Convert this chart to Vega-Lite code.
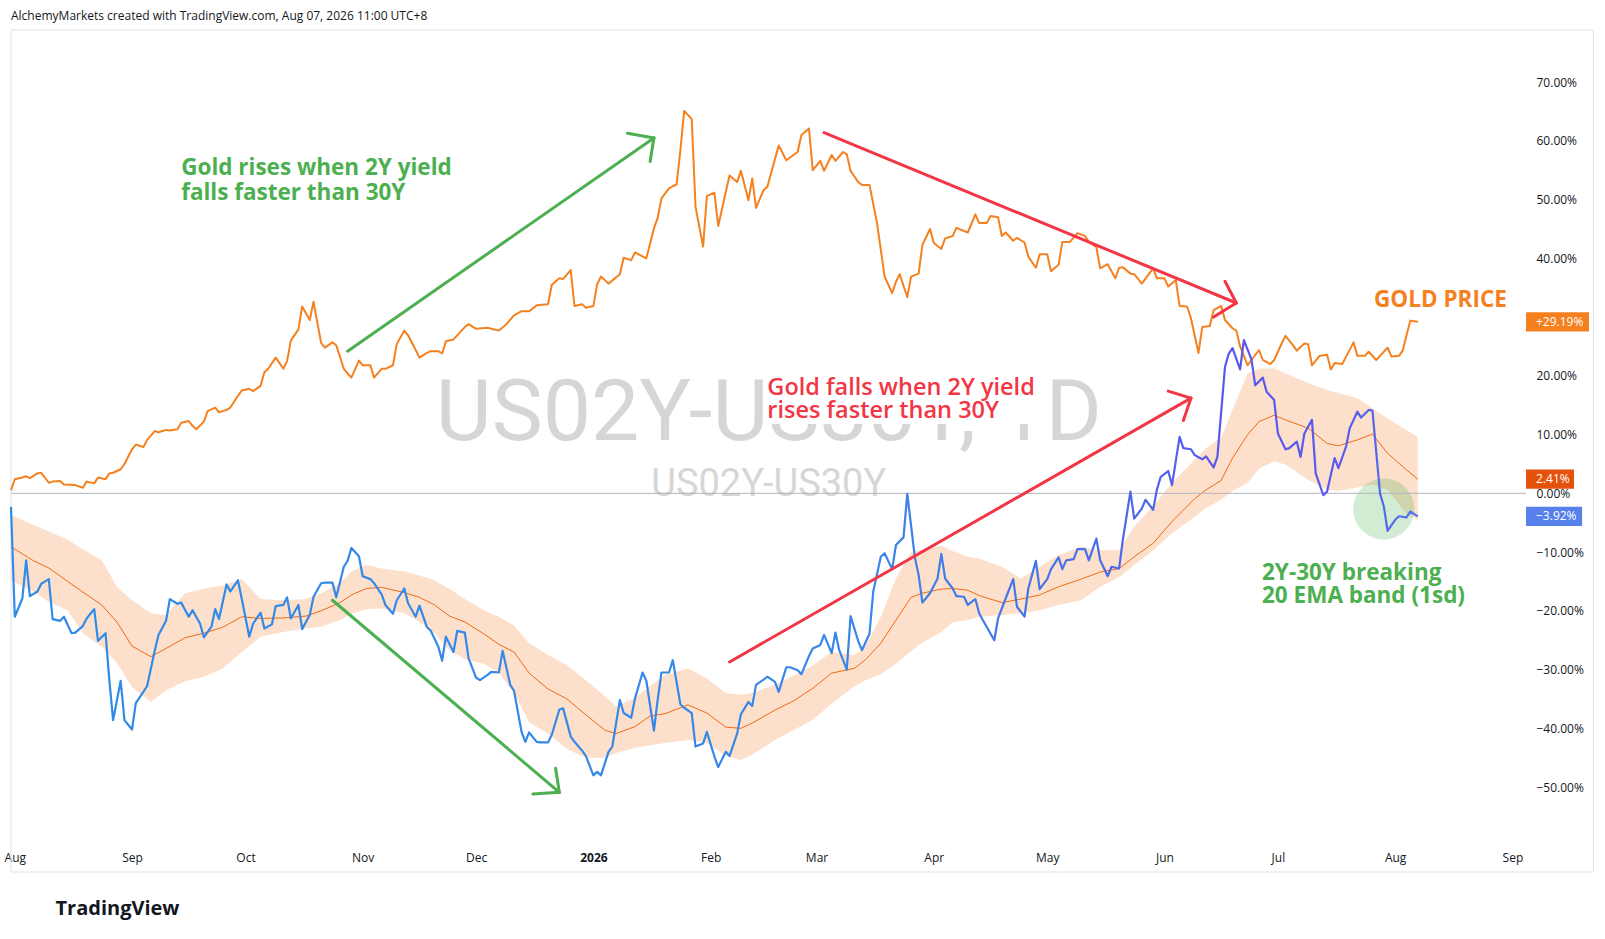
{
  "$schema": "https://vega.github.io/schema/vega-lite/v6.json",
  "width": 1515,
  "height": 811,
  "autosize": {"type": "none"},
  "padding": {"left": 11, "top": 31, "right": 79, "bottom": 97},
  "background": "white",
  "title": {
    "text": "AlchemyMarkets created with TradingView.com, Aug 07, 2026 11:00 UTC+8",
    "anchor": "start",
    "frame": "group",
    "font": "Open Sans",
    "fontSize": 12,
    "fontWeight": "normal",
    "color": "#131722",
    "baseline": "alphabetic",
    "offset": -2
  },
  "config": {"view": {"stroke": null}, "font": "Open Sans"},
  "data": {"values": [{}]},
  "datasets": {
    "gold": [
      {"d": "2025-07-31", "v": 0.5}, {"d": "2025-08-01", "v": 2.4}, {"d": "2025-08-03", "v": 2.7}, {"d": "2025-08-04", "v": 2.9},
      {"d": "2025-08-05", "v": 2.6}, {"d": "2025-08-07", "v": 3.4}, {"d": "2025-08-08", "v": 3.5}, {"d": "2025-08-10", "v": 1.8},
      {"d": "2025-08-11", "v": 2.0}, {"d": "2025-08-13", "v": 2.1}, {"d": "2025-08-14", "v": 1.5}, {"d": "2025-08-17", "v": 1.4},
      {"d": "2025-08-19", "v": 0.95}, {"d": "2025-08-20", "v": 2.0}, {"d": "2025-08-22", "v": 1.7}, {"d": "2025-08-23", "v": 2.7},
      {"d": "2025-08-25", "v": 2.4}, {"d": "2025-08-26", "v": 3.4}, {"d": "2025-08-27", "v": 3.5}, {"d": "2025-08-29", "v": 4.1},
      {"d": "2025-08-30", "v": 5.0}, {"d": "2025-09-01", "v": 7.5}, {"d": "2025-09-02", "v": 8.3}, {"d": "2025-09-04", "v": 7.9},
      {"d": "2025-09-05", "v": 9.1}, {"d": "2025-09-07", "v": 10.6}, {"d": "2025-09-08", "v": 10.4}, {"d": "2025-09-10", "v": 10.8},
      {"d": "2025-09-11", "v": 10.7}, {"d": "2025-09-13", "v": 10.9}, {"d": "2025-09-14", "v": 12.0}, {"d": "2025-09-16", "v": 12.3},
      {"d": "2025-09-17", "v": 11.5}, {"d": "2025-09-18", "v": 10.9}, {"d": "2025-09-20", "v": 12.2}, {"d": "2025-09-21", "v": 14.0},
      {"d": "2025-09-23", "v": 14.6}, {"d": "2025-09-24", "v": 13.8}, {"d": "2025-09-26", "v": 14.2}, {"d": "2025-09-27", "v": 14.6},
      {"d": "2025-09-29", "v": 16.6}, {"d": "2025-09-30", "v": 17.5}, {"d": "2025-10-02", "v": 17.8}, {"d": "2025-10-03", "v": 17.4},
      {"d": "2025-10-05", "v": 18.3}, {"d": "2025-10-06", "v": 20.6}, {"d": "2025-10-07", "v": 21.2}, {"d": "2025-10-09", "v": 23.1},
      {"d": "2025-10-11", "v": 21.2}, {"d": "2025-10-12", "v": 22.5}, {"d": "2025-10-13", "v": 26.0}, {"d": "2025-10-15", "v": 27.9},
      {"d": "2025-10-16", "v": 31.8}, {"d": "2025-10-18", "v": 29.5}, {"d": "2025-10-19", "v": 32.6}, {"d": "2025-10-21", "v": 25.6},
      {"d": "2025-10-22", "v": 24.8}, {"d": "2025-10-24", "v": 25.7}, {"d": "2025-10-25", "v": 25.2}, {"d": "2025-10-27", "v": 21.2},
      {"d": "2025-10-28", "v": 20.4}, {"d": "2025-10-29", "v": 19.7}, {"d": "2025-10-31", "v": 22.6}, {"d": "2025-11-01", "v": 21.8},
      {"d": "2025-11-03", "v": 21.8}, {"d": "2025-11-04", "v": 19.7}, {"d": "2025-11-06", "v": 21.2}, {"d": "2025-11-07", "v": 21.2},
      {"d": "2025-11-09", "v": 21.8}, {"d": "2025-11-10", "v": 25.4}, {"d": "2025-11-12", "v": 27.7}, {"d": "2025-11-13", "v": 26.9},
      {"d": "2025-11-15", "v": 24.4}, {"d": "2025-11-16", "v": 23.1}, {"d": "2025-11-18", "v": 23.9}, {"d": "2025-11-19", "v": 24.2},
      {"d": "2025-11-21", "v": 24.2}, {"d": "2025-11-22", "v": 23.8}, {"d": "2025-11-23", "v": 25.9}, {"d": "2025-11-25", "v": 26.2},
      {"d": "2025-11-28", "v": 28.3}, {"d": "2025-11-29", "v": 28.8}, {"d": "2025-12-01", "v": 28.0}, {"d": "2025-12-04", "v": 28.2},
      {"d": "2025-12-07", "v": 27.7}, {"d": "2025-12-09", "v": 28.8}, {"d": "2025-12-11", "v": 30.3}, {"d": "2025-12-13", "v": 31.0},
      {"d": "2025-12-15", "v": 31.0}, {"d": "2025-12-17", "v": 32.0}, {"d": "2025-12-20", "v": 32.2}, {"d": "2025-12-21", "v": 35.5},
      {"d": "2025-12-23", "v": 36.6}, {"d": "2025-12-24", "v": 36.5}, {"d": "2025-12-26", "v": 38.0}, {"d": "2025-12-27", "v": 31.9},
      {"d": "2025-12-29", "v": 32.2}, {"d": "2025-12-30", "v": 31.6}, {"d": "2026-01-01", "v": 31.9}, {"d": "2026-01-02", "v": 35.6},
      {"d": "2026-01-03", "v": 36.9}, {"d": "2026-01-05", "v": 35.7}, {"d": "2026-01-08", "v": 37.3}, {"d": "2026-01-09", "v": 40.1},
      {"d": "2026-01-11", "v": 39.7}, {"d": "2026-01-12", "v": 41.0}, {"d": "2026-01-15", "v": 40.0}, {"d": "2026-01-17", "v": 45.1},
      {"d": "2026-01-18", "v": 46.9}, {"d": "2026-01-19", "v": 50.2}, {"d": "2026-01-21", "v": 51.9}, {"d": "2026-01-23", "v": 52.6},
      {"d": "2026-01-24", "v": 58.4}, {"d": "2026-01-25", "v": 65.1}, {"d": "2026-01-27", "v": 63.7}, {"d": "2026-01-28", "v": 48.8},
      {"d": "2026-01-30", "v": 42.0}, {"d": "2026-01-31", "v": 50.6}, {"d": "2026-02-02", "v": 51.2}, {"d": "2026-02-03", "v": 45.5},
      {"d": "2026-02-05", "v": 51.3}, {"d": "2026-02-06", "v": 54.1}, {"d": "2026-02-08", "v": 53.0}, {"d": "2026-02-09", "v": 54.9},
      {"d": "2026-02-11", "v": 49.9}, {"d": "2026-02-12", "v": 53.6}, {"d": "2026-02-13", "v": 48.6}, {"d": "2026-02-15", "v": 51.6},
      {"d": "2026-02-16", "v": 52.2}, {"d": "2026-02-19", "v": 59.2}, {"d": "2026-02-21", "v": 56.7}, {"d": "2026-02-24", "v": 58.1},
      {"d": "2026-02-25", "v": 61.0}, {"d": "2026-02-27", "v": 62.1}, {"d": "2026-02-28", "v": 55.0}, {"d": "2026-03-02", "v": 56.6},
      {"d": "2026-03-03", "v": 54.9}, {"d": "2026-03-05", "v": 57.6}, {"d": "2026-03-06", "v": 56.6}, {"d": "2026-03-08", "v": 58.1},
      {"d": "2026-03-09", "v": 57.7}, {"d": "2026-03-10", "v": 54.9}, {"d": "2026-03-12", "v": 53.0}, {"d": "2026-03-13", "v": 52.5},
      {"d": "2026-03-15", "v": 52.5}, {"d": "2026-03-17", "v": 46.0}, {"d": "2026-03-19", "v": 36.9}, {"d": "2026-03-21", "v": 34.1},
      {"d": "2026-03-22", "v": 36.0}, {"d": "2026-03-23", "v": 37.3}, {"d": "2026-03-25", "v": 33.4}, {"d": "2026-03-26", "v": 36.9},
      {"d": "2026-03-28", "v": 37.4}, {"d": "2026-03-29", "v": 42.3}, {"d": "2026-03-31", "v": 45.0}, {"d": "2026-04-01", "v": 42.6},
      {"d": "2026-04-03", "v": 41.6}, {"d": "2026-04-04", "v": 43.4}, {"d": "2026-04-06", "v": 43.8}, {"d": "2026-04-07", "v": 45.2},
      {"d": "2026-04-10", "v": 44.4}, {"d": "2026-04-12", "v": 47.5}, {"d": "2026-04-13", "v": 46.0}, {"d": "2026-04-15", "v": 46.0},
      {"d": "2026-04-16", "v": 47.2}, {"d": "2026-04-18", "v": 47.0}, {"d": "2026-04-19", "v": 43.8}, {"d": "2026-04-20", "v": 44.4},
      {"d": "2026-04-22", "v": 43.0}, {"d": "2026-04-23", "v": 43.5}, {"d": "2026-04-25", "v": 42.7}, {"d": "2026-04-26", "v": 40.3},
      {"d": "2026-04-28", "v": 38.4}, {"d": "2026-04-29", "v": 40.7}, {"d": "2026-05-01", "v": 40.7}, {"d": "2026-05-02", "v": 37.8},
      {"d": "2026-05-04", "v": 38.9}, {"d": "2026-05-05", "v": 42.8}, {"d": "2026-05-07", "v": 42.8}, {"d": "2026-05-09", "v": 44.3},
      {"d": "2026-05-11", "v": 43.8}, {"d": "2026-05-12", "v": 42.8}, {"d": "2026-05-14", "v": 41.9}, {"d": "2026-05-15", "v": 38.3},
      {"d": "2026-05-17", "v": 39.0}, {"d": "2026-05-19", "v": 36.6}, {"d": "2026-05-20", "v": 38.4}, {"d": "2026-05-21", "v": 38.5},
      {"d": "2026-05-23", "v": 37.4}, {"d": "2026-05-24", "v": 37.3}, {"d": "2026-05-26", "v": 35.7}, {"d": "2026-05-29", "v": 38.3},
      {"d": "2026-05-30", "v": 36.6}, {"d": "2026-06-01", "v": 36.6}, {"d": "2026-06-02", "v": 35.2}, {"d": "2026-06-04", "v": 36.3},
      {"d": "2026-06-05", "v": 31.9}, {"d": "2026-06-07", "v": 31.8}, {"d": "2026-06-08", "v": 29.8}, {"d": "2026-06-10", "v": 23.9},
      {"d": "2026-06-11", "v": 28.3}, {"d": "2026-06-13", "v": 28.5}, {"d": "2026-06-14", "v": 31.2}, {"d": "2026-06-16", "v": 31.9},
      {"d": "2026-06-17", "v": 29.5}, {"d": "2026-06-19", "v": 28.1}, {"d": "2026-06-20", "v": 27.7}, {"d": "2026-06-21", "v": 25.0},
      {"d": "2026-06-23", "v": 21.8}, {"d": "2026-06-24", "v": 22.7}, {"d": "2026-06-26", "v": 24.4}, {"d": "2026-06-27", "v": 22.7},
      {"d": "2026-06-29", "v": 22.0}, {"d": "2026-06-30", "v": 22.7}, {"d": "2026-07-02", "v": 25.5}, {"d": "2026-07-03", "v": 26.8},
      {"d": "2026-07-05", "v": 25.2}, {"d": "2026-07-06", "v": 24.3}, {"d": "2026-07-08", "v": 25.5}, {"d": "2026-07-09", "v": 25.4},
      {"d": "2026-07-10", "v": 21.8}, {"d": "2026-07-12", "v": 23.4}, {"d": "2026-07-14", "v": 23.6}, {"d": "2026-07-15", "v": 21.1},
      {"d": "2026-07-16", "v": 22.2}, {"d": "2026-07-18", "v": 22.0}, {"d": "2026-07-21", "v": 25.7}, {"d": "2026-07-22", "v": 23.4},
      {"d": "2026-07-24", "v": 23.4}, {"d": "2026-07-25", "v": 24.1}, {"d": "2026-07-27", "v": 22.7}, {"d": "2026-07-30", "v": 24.8},
      {"d": "2026-07-31", "v": 23.3}, {"d": "2026-08-02", "v": 23.4}, {"d": "2026-08-03", "v": 24.3}, {"d": "2026-08-05", "v": 29.4},
      {"d": "2026-08-06", "v": 29.3}, {"d": "2026-08-07", "v": 29.19}
    ],
    "spread": [
      {"d": "2025-07-31", "v": -2.3}, {"d": "2025-08-01", "v": -21.0}, {"d": "2025-08-03", "v": -17.9}, {"d": "2025-08-04", "v": -11.4},
      {"d": "2025-08-05", "v": -17.5}, {"d": "2025-08-07", "v": -16.7}, {"d": "2025-08-08", "v": -15.4}, {"d": "2025-08-10", "v": -14.6},
      {"d": "2025-08-11", "v": -21.4}, {"d": "2025-08-13", "v": -21.7}, {"d": "2025-08-14", "v": -21.0}, {"d": "2025-08-16", "v": -23.8},
      {"d": "2025-08-17", "v": -23.7}, {"d": "2025-08-19", "v": -22.6}, {"d": "2025-08-20", "v": -21.3}, {"d": "2025-08-22", "v": -19.7},
      {"d": "2025-08-23", "v": -25.1}, {"d": "2025-08-25", "v": -23.8}, {"d": "2025-08-26", "v": -31.8}, {"d": "2025-08-27", "v": -38.6},
      {"d": "2025-08-29", "v": -31.9}, {"d": "2025-08-30", "v": -38.6}, {"d": "2025-09-01", "v": -40.2}, {"d": "2025-09-02", "v": -35.7},
      {"d": "2025-09-04", "v": -33.8}, {"d": "2025-09-05", "v": -32.8}, {"d": "2025-09-07", "v": -26.8}, {"d": "2025-09-08", "v": -24.1},
      {"d": "2025-09-10", "v": -21.7}, {"d": "2025-09-11", "v": -18.0}, {"d": "2025-09-13", "v": -18.8}, {"d": "2025-09-14", "v": -18.6},
      {"d": "2025-09-16", "v": -21.0}, {"d": "2025-09-17", "v": -19.9}, {"d": "2025-09-19", "v": -22.2}, {"d": "2025-09-20", "v": -24.5},
      {"d": "2025-09-22", "v": -22.7}, {"d": "2025-09-23", "v": -19.7}, {"d": "2025-09-24", "v": -21.4}, {"d": "2025-09-26", "v": -15.5},
      {"d": "2025-09-27", "v": -16.7}, {"d": "2025-09-29", "v": -14.8}, {"d": "2025-09-30", "v": -17.9}, {"d": "2025-10-02", "v": -24.4},
      {"d": "2025-10-03", "v": -22.2}, {"d": "2025-10-05", "v": -20.3}, {"d": "2025-10-06", "v": -23.0}, {"d": "2025-10-08", "v": -22.3},
      {"d": "2025-10-09", "v": -19.2}, {"d": "2025-10-11", "v": -19.0}, {"d": "2025-10-12", "v": -17.7}, {"d": "2025-10-13", "v": -21.3},
      {"d": "2025-10-15", "v": -19.0}, {"d": "2025-10-16", "v": -23.1}, {"d": "2025-10-18", "v": -20.7}, {"d": "2025-10-19", "v": -17.6},
      {"d": "2025-10-21", "v": -15.3}, {"d": "2025-10-22", "v": -15.2}, {"d": "2025-10-24", "v": -15.2}, {"d": "2025-10-25", "v": -17.7},
      {"d": "2025-10-27", "v": -12.5}, {"d": "2025-10-28", "v": -11.5}, {"d": "2025-10-29", "v": -9.3}, {"d": "2025-10-31", "v": -10.7},
      {"d": "2025-11-01", "v": -14.1}, {"d": "2025-11-03", "v": -14.6}, {"d": "2025-11-04", "v": -15.3}, {"d": "2025-11-06", "v": -17.2},
      {"d": "2025-11-07", "v": -19.0}, {"d": "2025-11-09", "v": -20.5}, {"d": "2025-11-10", "v": -18.2}, {"d": "2025-11-12", "v": -16.2},
      {"d": "2025-11-13", "v": -18.7}, {"d": "2025-11-15", "v": -21.0}, {"d": "2025-11-16", "v": -19.1}, {"d": "2025-11-18", "v": -22.8},
      {"d": "2025-11-19", "v": -23.4}, {"d": "2025-11-21", "v": -26.1}, {"d": "2025-11-22", "v": -28.5}, {"d": "2025-11-23", "v": -24.4},
      {"d": "2025-11-25", "v": -27.0}, {"d": "2025-11-26", "v": -23.4}, {"d": "2025-11-28", "v": -23.7}, {"d": "2025-11-29", "v": -28.1},
      {"d": "2025-12-01", "v": -31.4}, {"d": "2025-12-02", "v": -31.8}, {"d": "2025-12-04", "v": -30.9}, {"d": "2025-12-05", "v": -30.4},
      {"d": "2025-12-07", "v": -30.5}, {"d": "2025-12-08", "v": -26.8}, {"d": "2025-12-10", "v": -32.6}, {"d": "2025-12-11", "v": -33.6},
      {"d": "2025-12-13", "v": -40.6}, {"d": "2025-12-14", "v": -42.3}, {"d": "2025-12-15", "v": -40.7}, {"d": "2025-12-17", "v": -42.3},
      {"d": "2025-12-18", "v": -42.4}, {"d": "2025-12-20", "v": -42.4}, {"d": "2025-12-21", "v": -41.1}, {"d": "2025-12-23", "v": -36.8},
      {"d": "2025-12-24", "v": -36.6}, {"d": "2025-12-26", "v": -41.4}, {"d": "2025-12-27", "v": -42.3}, {"d": "2025-12-29", "v": -43.8},
      {"d": "2025-12-30", "v": -44.7}, {"d": "2026-01-01", "v": -48.0}, {"d": "2026-01-02", "v": -47.4}, {"d": "2026-01-03", "v": -48.0},
      {"d": "2026-01-05", "v": -44.0}, {"d": "2026-01-06", "v": -43.1}, {"d": "2026-01-08", "v": -35.2}, {"d": "2026-01-09", "v": -37.4},
      {"d": "2026-01-11", "v": -38.2}, {"d": "2026-01-12", "v": -34.9}, {"d": "2026-01-14", "v": -30.5}, {"d": "2026-01-15", "v": -31.9},
      {"d": "2026-01-17", "v": -40.4}, {"d": "2026-01-18", "v": -35.1}, {"d": "2026-01-19", "v": -30.5}, {"d": "2026-01-21", "v": -30.5},
      {"d": "2026-01-22", "v": -28.4}, {"d": "2026-01-24", "v": -35.9}, {"d": "2026-01-25", "v": -36.5}, {"d": "2026-01-27", "v": -37.4},
      {"d": "2026-01-28", "v": -43.1}, {"d": "2026-01-30", "v": -42.6}, {"d": "2026-01-31", "v": -40.6}, {"d": "2026-02-02", "v": -44.8},
      {"d": "2026-02-03", "v": -46.6}, {"d": "2026-02-05", "v": -44.0}, {"d": "2026-02-06", "v": -44.7}, {"d": "2026-02-08", "v": -40.9},
      {"d": "2026-02-09", "v": -37.6}, {"d": "2026-02-11", "v": -35.5}, {"d": "2026-02-12", "v": -36.2}, {"d": "2026-02-13", "v": -32.6},
      {"d": "2026-02-15", "v": -31.7}, {"d": "2026-02-16", "v": -31.2}, {"d": "2026-02-18", "v": -32.1}, {"d": "2026-02-19", "v": -33.8},
      {"d": "2026-02-21", "v": -29.6}, {"d": "2026-02-22", "v": -29.6}, {"d": "2026-02-24", "v": -30.1}, {"d": "2026-02-25", "v": -30.8},
      {"d": "2026-02-27", "v": -27.7}, {"d": "2026-02-28", "v": -26.4}, {"d": "2026-03-02", "v": -25.8}, {"d": "2026-03-03", "v": -24.1},
      {"d": "2026-03-05", "v": -27.2}, {"d": "2026-03-06", "v": -23.7}, {"d": "2026-03-07", "v": -26.7}, {"d": "2026-03-09", "v": -30.0},
      {"d": "2026-03-10", "v": -20.9}, {"d": "2026-03-12", "v": -25.1}, {"d": "2026-03-13", "v": -26.7}, {"d": "2026-03-15", "v": -23.9},
      {"d": "2026-03-16", "v": -16.7}, {"d": "2026-03-18", "v": -10.8}, {"d": "2026-03-19", "v": -10.2}, {"d": "2026-03-21", "v": -12.9},
      {"d": "2026-03-22", "v": -8.8}, {"d": "2026-03-24", "v": -7.5}, {"d": "2026-03-25", "v": -0.1}, {"d": "2026-03-27", "v": -10.9},
      {"d": "2026-03-28", "v": -13.9}, {"d": "2026-03-29", "v": -18.6}, {"d": "2026-03-31", "v": -17.0}, {"d": "2026-04-02", "v": -14.5},
      {"d": "2026-04-03", "v": -10.3}, {"d": "2026-04-04", "v": -14.5}, {"d": "2026-04-06", "v": -16.2}, {"d": "2026-04-07", "v": -17.5},
      {"d": "2026-04-09", "v": -17.6}, {"d": "2026-04-10", "v": -19.0}, {"d": "2026-04-12", "v": -18.0}, {"d": "2026-04-13", "v": -20.4},
      {"d": "2026-04-14", "v": -21.6}, {"d": "2026-04-17", "v": -25.0}, {"d": "2026-04-18", "v": -21.3}, {"d": "2026-04-20", "v": -17.9},
      {"d": "2026-04-22", "v": -14.6}, {"d": "2026-04-23", "v": -19.3}, {"d": "2026-04-25", "v": -21.0}, {"d": "2026-04-26", "v": -16.2},
      {"d": "2026-04-28", "v": -11.5}, {"d": "2026-04-29", "v": -16.3}, {"d": "2026-05-01", "v": -14.6}, {"d": "2026-05-02", "v": -12.9},
      {"d": "2026-05-04", "v": -10.9}, {"d": "2026-05-05", "v": -12.9}, {"d": "2026-05-06", "v": -11.4}, {"d": "2026-05-08", "v": -11.2},
      {"d": "2026-05-09", "v": -9.5}, {"d": "2026-05-11", "v": -9.5}, {"d": "2026-05-12", "v": -11.4}, {"d": "2026-05-14", "v": -7.7},
      {"d": "2026-05-15", "v": -11.4}, {"d": "2026-05-17", "v": -14.1}, {"d": "2026-05-18", "v": -12.5}, {"d": "2026-05-20", "v": -12.8},
      {"d": "2026-05-21", "v": -7.9}, {"d": "2026-05-23", "v": 0.3}, {"d": "2026-05-24", "v": -4.3}, {"d": "2026-05-26", "v": -2.6},
      {"d": "2026-05-27", "v": -1.1}, {"d": "2026-05-29", "v": -2.8}, {"d": "2026-05-30", "v": 0.6}, {"d": "2026-05-31", "v": 2.8},
      {"d": "2026-06-02", "v": 3.8}, {"d": "2026-06-03", "v": 1.4}, {"d": "2026-06-05", "v": 9.6}, {"d": "2026-06-06", "v": 7.7},
      {"d": "2026-06-08", "v": 7.5}, {"d": "2026-06-09", "v": 6.5}, {"d": "2026-06-11", "v": 5.8}, {"d": "2026-06-12", "v": 6.3},
      {"d": "2026-06-14", "v": 4.4}, {"d": "2026-06-15", "v": 6.2}, {"d": "2026-06-17", "v": 21.5}, {"d": "2026-06-18", "v": 23.8},
      {"d": "2026-06-19", "v": 24.7}, {"d": "2026-06-21", "v": 21.1}, {"d": "2026-06-22", "v": 26.1}, {"d": "2026-06-24", "v": 22.8},
      {"d": "2026-06-25", "v": 18.4}, {"d": "2026-06-27", "v": 19.7}, {"d": "2026-06-28", "v": 17.3}, {"d": "2026-06-30", "v": 15.9},
      {"d": "2026-07-01", "v": 10.2}, {"d": "2026-07-03", "v": 7.5}, {"d": "2026-07-04", "v": 7.7}, {"d": "2026-07-06", "v": 8.8},
      {"d": "2026-07-07", "v": 6.2}, {"d": "2026-07-08", "v": 10.2}, {"d": "2026-07-10", "v": 12.5}, {"d": "2026-07-11", "v": 3.4},
      {"d": "2026-07-13", "v": -0.3}, {"d": "2026-07-14", "v": 0.3}, {"d": "2026-07-16", "v": 6.0}, {"d": "2026-07-17", "v": 4.3},
      {"d": "2026-07-19", "v": 7.9}, {"d": "2026-07-20", "v": 11.1}, {"d": "2026-07-22", "v": 13.9}, {"d": "2026-07-23", "v": 12.9},
      {"d": "2026-07-25", "v": 14.2}, {"d": "2026-07-26", "v": 14.1}, {"d": "2026-07-28", "v": 0.0}, {"d": "2026-07-29", "v": -2.2},
      {"d": "2026-07-30", "v": -6.4}, {"d": "2026-08-01", "v": -4.5}, {"d": "2026-08-02", "v": -3.9}, {"d": "2026-08-04", "v": -4.1},
      {"d": "2026-08-05", "v": -3.1}, {"d": "2026-08-07", "v": -3.92}
    ],
    "band": [
      {"d": "2025-07-31", "ema": -9.1, "hi": -3.7, "lo": -14.8}, {"d": "2025-08-06", "ema": -11.5, "hi": -5.4, "lo": -16.7},
      {"d": "2025-08-10", "ema": -12.7, "hi": -6.5, "lo": -18.5}, {"d": "2025-08-15", "ema": -15.0, "hi": -7.9, "lo": -19.9},
      {"d": "2025-08-19", "ema": -16.8, "hi": -9.5, "lo": -23.8}, {"d": "2025-08-24", "ema": -19.0, "hi": -11.4, "lo": -26.1},
      {"d": "2025-08-28", "ema": -21.9, "hi": -15.9, "lo": -28.9}, {"d": "2025-09-01", "ema": -26.0, "hi": -18.2, "lo": -33.0},
      {"d": "2025-09-06", "ema": -27.8, "hi": -20.4, "lo": -35.5}, {"d": "2025-09-10", "ema": -26.4, "hi": -20.7, "lo": -33.5},
      {"d": "2025-09-15", "ema": -24.6, "hi": -17.0, "lo": -32.0}, {"d": "2025-09-20", "ema": -23.8, "hi": -16.2, "lo": -31.2},
      {"d": "2025-09-25", "ema": -22.8, "hi": -15.7, "lo": -29.8}, {"d": "2025-09-30", "ema": -21.0, "hi": -14.6, "lo": -27.0},
      {"d": "2025-10-05", "ema": -21.3, "hi": -18.0, "lo": -24.4}, {"d": "2025-10-11", "ema": -21.2, "hi": -18.2, "lo": -23.6},
      {"d": "2025-10-17", "ema": -20.9, "hi": -18.0, "lo": -23.0}, {"d": "2025-10-21", "ema": -20.0, "hi": -17.0, "lo": -22.7},
      {"d": "2025-10-26", "ema": -18.6, "hi": -15.3, "lo": -21.6}, {"d": "2025-10-29", "ema": -17.3, "hi": -13.3, "lo": -20.5},
      {"d": "2025-11-02", "ema": -16.2, "hi": -12.2, "lo": -19.7}, {"d": "2025-11-06", "ema": -16.0, "hi": -12.8, "lo": -19.6},
      {"d": "2025-11-12", "ema": -16.9, "hi": -13.3, "lo": -20.4}, {"d": "2025-11-16", "ema": -17.7, "hi": -14.0, "lo": -21.9},
      {"d": "2025-11-20", "ema": -19.0, "hi": -14.8, "lo": -23.8}, {"d": "2025-11-24", "ema": -20.9, "hi": -16.3, "lo": -26.7},
      {"d": "2025-11-28", "ema": -21.9, "hi": -18.0, "lo": -28.3}, {"d": "2025-12-03", "ema": -23.9, "hi": -19.9, "lo": -29.0},
      {"d": "2025-12-07", "ema": -25.7, "hi": -21.0, "lo": -30.5}, {"d": "2025-12-11", "ema": -27.0, "hi": -22.5, "lo": -34.0},
      {"d": "2025-12-15", "ema": -30.6, "hi": -25.5, "lo": -39.0}, {"d": "2025-12-20", "ema": -33.3, "hi": -27.5, "lo": -40.9},
      {"d": "2025-12-25", "ema": -35.0, "hi": -29.2, "lo": -43.5}, {"d": "2025-12-30", "ema": -37.7, "hi": -31.8, "lo": -45.0},
      {"d": "2026-01-04", "ema": -40.3, "hi": -34.5, "lo": -45.0}, {"d": "2026-01-07", "ema": -40.9, "hi": -36.3, "lo": -44.2},
      {"d": "2026-01-12", "ema": -39.7, "hi": -34.8, "lo": -43.3}, {"d": "2026-01-16", "ema": -37.9, "hi": -32.8, "lo": -42.9},
      {"d": "2026-01-20", "ema": -37.5, "hi": -30.9, "lo": -42.5}, {"d": "2026-01-26", "ema": -36.0, "hi": -29.8, "lo": -42.0},
      {"d": "2026-01-31", "ema": -37.4, "hi": -31.5, "lo": -42.5}, {"d": "2026-02-05", "ema": -39.8, "hi": -34.0, "lo": -44.7},
      {"d": "2026-02-09", "ema": -40.0, "hi": -34.3, "lo": -45.4}, {"d": "2026-02-12", "ema": -39.1, "hi": -34.0, "lo": -44.5},
      {"d": "2026-02-18", "ema": -36.9, "hi": -32.6, "lo": -42.0}, {"d": "2026-02-23", "ema": -35.3, "hi": -31.0, "lo": -40.3},
      {"d": "2026-02-28", "ema": -33.2, "hi": -29.3, "lo": -38.6}, {"d": "2026-03-05", "ema": -30.6, "hi": -27.0, "lo": -35.8},
      {"d": "2026-03-11", "ema": -29.8, "hi": -27.5, "lo": -32.9}, {"d": "2026-03-14", "ema": -28.3, "hi": -26.0, "lo": -31.8},
      {"d": "2026-03-18", "ema": -25.5, "hi": -21.0, "lo": -30.8}, {"d": "2026-03-22", "ema": -21.6, "hi": -14.5, "lo": -29.0},
      {"d": "2026-03-26", "ema": -17.7, "hi": -10.0, "lo": -26.9}, {"d": "2026-03-29", "ema": -17.0, "hi": -9.6, "lo": -25.4},
      {"d": "2026-04-03", "ema": -16.3, "hi": -8.9, "lo": -23.6}, {"d": "2026-04-06", "ema": -16.2, "hi": -9.8, "lo": -21.9},
      {"d": "2026-04-10", "ema": -16.5, "hi": -10.8, "lo": -21.6}, {"d": "2026-04-13", "ema": -17.4, "hi": -11.1, "lo": -21.0},
      {"d": "2026-04-19", "ema": -18.6, "hi": -12.5, "lo": -20.7}, {"d": "2026-04-24", "ema": -18.0, "hi": -14.5, "lo": -20.4},
      {"d": "2026-04-29", "ema": -17.3, "hi": -12.5, "lo": -19.9}, {"d": "2026-05-04", "ema": -15.9, "hi": -10.5, "lo": -19.0},
      {"d": "2026-05-10", "ema": -14.6, "hi": -9.1, "lo": -18.2}, {"d": "2026-05-15", "ema": -13.4, "hi": -9.7, "lo": -15.9},
      {"d": "2026-05-20", "ema": -12.8, "hi": -9.7, "lo": -14.3}, {"d": "2026-05-24", "ema": -10.8, "hi": -5.7, "lo": -12.2},
      {"d": "2026-05-29", "ema": -8.5, "hi": -2.2, "lo": -9.7}, {"d": "2026-06-03", "ema": -4.8, "hi": 1.8, "lo": -6.8},
      {"d": "2026-06-09", "ema": -0.9, "hi": 5.7, "lo": -4.0}, {"d": "2026-06-12", "ema": 0.6, "hi": 7.7, "lo": -2.5},
      {"d": "2026-06-16", "ema": 2.2, "hi": 9.5, "lo": -1.1}, {"d": "2026-06-19", "ema": 6.0, "hi": 14.2, "lo": 0.4},
      {"d": "2026-06-23", "ema": 10.0, "hi": 20.4, "lo": 1.8}, {"d": "2026-06-26", "ema": 12.2, "hi": 21.2, "lo": 4.2},
      {"d": "2026-06-30", "ema": 13.3, "hi": 21.3, "lo": 5.4}, {"d": "2026-07-03", "ema": 12.5, "hi": 20.4, "lo": 4.9},
      {"d": "2026-07-09", "ema": 11.1, "hi": 18.8, "lo": 2.3}, {"d": "2026-07-14", "ema": 8.5, "hi": 17.6, "lo": 0.6},
      {"d": "2026-07-17", "ema": 8.1, "hi": 17.1, "lo": 0.4}, {"d": "2026-07-22", "ema": 9.1, "hi": 16.2, "lo": 1.0},
      {"d": "2026-07-26", "ema": 10.1, "hi": 14.5, "lo": 1.5}, {"d": "2026-07-30", "ema": 6.8, "hi": 12.8, "lo": 0.6},
      {"d": "2026-08-04", "ema": 4.0, "hi": 10.8, "lo": -3.5}, {"d": "2026-08-07", "ema": 2.41, "hi": 9.6, "lo": -4.5}
    ],
    "arrows": [
      {"d": "2025-10-28", "v": 24.2, "d2": "2026-01-17", "v2": 60.5, "k": "rise"},
      {"d": "2026-01-17", "v": 60.5, "d2": "2026-01-10", "v2": 61.3, "k": "rise"},
      {"d": "2026-01-17", "v": 60.5, "d2": "2026-01-16", "v2": 56.5, "k": "rise"},
      {"d": "2025-10-24", "v": -18.2, "d2": "2025-12-23", "v2": -50.9, "k": "rise"},
      {"d": "2025-12-23", "v": -50.9, "d2": "2025-12-22", "v2": -46.8, "k": "rise"},
      {"d": "2025-12-23", "v": -50.9, "d2": "2025-12-16", "v2": -51.2, "k": "rise"},
      {"d": "2026-03-03", "v": 61.4, "d2": "2026-06-20", "v2": 32.4, "k": "fall"},
      {"d": "2026-06-20", "v": 32.4, "d2": "2026-06-17", "v2": 36.1, "k": "fall"},
      {"d": "2026-06-20", "v": 32.4, "d2": "2026-06-14", "v2": 30.0, "k": "fall"},
      {"d": "2026-02-06", "v": -28.7, "d2": "2026-06-08", "v2": 16.2, "k": "fall"},
      {"d": "2026-06-08", "v": 16.2, "d2": "2026-06-02", "v2": 17.4, "k": "fall"},
      {"d": "2026-06-08", "v": 16.2, "d2": "2026-06-06", "v2": 12.4, "k": "fall"}
    ],
    "notes": [
      {"d": "2025-09-14", "v": 54.2, "t": "Gold rises when 2Y yield", "k": "rise"},
      {"d": "2025-09-14", "v": 50.0, "t": "falls faster than 30Y", "k": "rise"},
      {"d": "2026-02-16", "v": 16.7, "t": "Gold falls when 2Y yield", "k": "fall"},
      {"d": "2026-02-16", "v": 12.8, "t": "rises faster than 30Y", "k": "fall"},
      {"d": "2026-07-26T10:00:00Z", "v": 31.7, "t": "GOLD PRICE", "k": "gold"},
      {"d": "2026-06-26T19:00:00Z", "v": -14.8, "t": "2Y-30Y breaking", "k": "rise"},
      {"d": "2026-06-26T19:00:00Z", "v": -18.7, "t": "20 EMA band (1sd)", "k": "rise"}
    ],
    "tags": [
      {"k": "gold", "v": 29.19, "t": "+29.19%"},
      {"k": "ema", "v": 2.41, "t": "2.41%"},
      {"k": "spread", "v": -3.92, "t": "−3.92%"}
    ]
  },
  "layer": [
    {
      "mark": {"type": "rect", "fill": "transparent", "stroke": "#e0e3eb", "strokeWidth": 1},
      "encoding": {
        "x": {"datum": {"year": 2025, "month": 7, "date": 31, "utc": true}, "type": "temporal"},
        "x2": {"datum": {"year": 2026, "month": 9, "date": 22, "hours": 10, "utc": true}},
        "y": {"datum": 78.87, "type": "quantitative"},
        "y2": {"datum": -64.46}
      }
    },
    {
      "mark": {"type": "text", "text": "US02Y-US30Y, 1D", "font": "Roboto", "fontSize": 86, "color": "#d6d6d6", "align": "center", "baseline": "alphabetic"},
      "encoding": {
        "x": {"datum": {"year": 2026, "month": 2, "date": 16, "hours": 9, "minutes": 36, "utc": true}, "type": "temporal"},
        "y": {"datum": 9.1, "type": "quantitative"}
      }
    },
    {
      "mark": {"type": "text", "text": "US02Y-US30Y", "font": "Roboto", "fontSize": 38, "color": "#d6d6d6", "align": "center", "baseline": "alphabetic"},
      "encoding": {
        "x": {"datum": {"year": 2026, "month": 2, "date": 16, "hours": 9, "utc": true}, "type": "temporal"},
        "y": {"datum": -0.46, "type": "quantitative"}
      }
    },
    {
      "data": {"name": "band"},
      "mark": {"type": "area", "color": "#fde0cc", "opacity": 1},
      "encoding": {
        "x": {"field": "d", "type": "temporal"},
        "y": {"field": "hi", "type": "quantitative"},
        "y2": {"field": "lo"}
      }
    },
    {
      "data": {"name": "band"},
      "mark": {"type": "line", "color": "#ef6a14", "strokeWidth": 1},
      "encoding": {
        "x": {"field": "d", "type": "temporal"},
        "y": {"field": "ema", "type": "quantitative"}
      }
    },
    {
      "mark": {"type": "point", "filled": true, "size": 3721, "color": "#4caf50", "opacity": 0.25, "strokeWidth": 0},
      "encoding": {
        "x": {"datum": {"year": 2026, "month": 7, "date": 29, "utc": true}, "type": "temporal"},
        "y": {"datum": -2.67, "type": "quantitative"}
      }
    },
    {
      "mark": {"type": "rule", "color": "#b2b5be", "strokeWidth": 1},
      "encoding": {"y": {"datum": 0, "type": "quantitative"}}
    },
    {
      "mark": {"type": "rect", "fill": "white"},
      "encoding": {
        "x": {"datum": {"year": 2026, "month": 2, "date": 15, "hours": 2, "utc": true}, "type": "temporal"},
        "x2": {"datum": {"year": 2026, "month": 4, "date": 29, "hours": 22, "utc": true}},
        "y": {"datum": 20.0, "type": "quantitative"},
        "y2": {"datum": 11.8}
      }
    },
    {
      "data": {"name": "gold"},
      "mark": {"type": "line", "color": "#f5801f", "strokeWidth": 2, "strokeJoin": "round"},
      "encoding": {
        "x": {
          "field": "d",
          "type": "temporal",
          "scale": {
            "type": "utc",
            "domain": [
              {"year": 2025, "month": 7, "date": 31, "utc": true},
              {"year": 2026, "month": 9, "date": 4, "hours": 14, "minutes": 24, "utc": true}
            ]
          },
          "axis": {
            "values": [
              {"year": 2025, "month": 8, "date": 1, "utc": true}, {"year": 2025, "month": 9, "date": 1, "utc": true},
              {"year": 2025, "month": 10, "date": 1, "utc": true}, {"year": 2025, "month": 11, "date": 1, "utc": true},
              {"year": 2025, "month": 12, "date": 1, "utc": true}, {"year": 2026, "month": 1, "date": 1, "utc": true},
              {"year": 2026, "month": 2, "date": 1, "utc": true}, {"year": 2026, "month": 3, "date": 1, "utc": true},
              {"year": 2026, "month": 4, "date": 1, "utc": true}, {"year": 2026, "month": 5, "date": 1, "utc": true},
              {"year": 2026, "month": 6, "date": 1, "utc": true}, {"year": 2026, "month": 7, "date": 1, "utc": true},
              {"year": 2026, "month": 8, "date": 1, "utc": true}, {"year": 2026, "month": 9, "date": 1, "utc": true}
            ],
            "labelExpr": "utcmonth(datum.value) == 0 ? utcFormat(datum.value, '%Y') : utcFormat(datum.value, '%b')",
            "labelFontWeight": {"condition": {"test": "utcmonth(datum.value) == 0", "value": "bold"}, "value": "normal"},
            "labelFont": "Open Sans",
            "labelFontSize": 12,
            "labelColor": "#131722",
            "labelPadding": 10,
            "labelOverlap": false,
            "ticks": false,
            "domain": false,
            "grid": false,
            "title": "TradingView",
            "titleFont": "Open Sans",
            "titleFontSize": 20,
            "titleFontWeight": "bold",
            "titleColor": "#131722",
            "titleAlign": "left",
            "titleAnchor": "start",
            "titleBaseline": "alphabetic",
            "titleX": 44,
            "titleY": 72
          }
        },
        "y": {
          "field": "v",
          "type": "quantitative",
          "scale": {"domain": [-59.35, 78.7], "nice": false, "zero": false},
          "axis": {
            "orient": "right",
            "values": [-50, -40, -30, -20, -10, 0, 10, 20, 40, 50, 60, 70],
            "labelExpr": "format(datum.value, '.2f') + '%'",
            "labelAlign": "left",
            "labelBaseline": "middle",
            "labelPadding": 10,
            "labelFont": "Open Sans",
            "labelFontSize": 12,
            "labelColor": "#131722",
            "ticks": false,
            "domain": false,
            "grid": false,
            "title": null
          }
        }
      }
    },
    {
      "data": {"name": "spread"},
      "mark": {
        "type": "line",
        "strokeWidth": 2.2,
        "strokeJoin": "round",
        "stroke": {
          "gradient": "linear", "x1": 0, "y1": 0, "x2": 1, "y2": 0,
          "stops": [
            {"offset": 0, "color": "#2f8be6"}, {"offset": 0.6, "color": "#3a86e8"},
            {"offset": 0.76, "color": "#4870e9"}, {"offset": 0.86, "color": "#5a58ec"},
            {"offset": 0.95, "color": "#5a5cec"}, {"offset": 1, "color": "#4e76ea"}
          ]
        }
      },
      "encoding": {
        "x": {"field": "d", "type": "temporal"},
        "y": {"field": "v", "type": "quantitative"}
      }
    },
    {
      "data": {"name": "spread"},
      "transform": [{"filter": "datum.d == '2026-08-07'"}],
      "mark": {"type": "point", "filled": true, "size": 50, "color": "#4e76ea", "opacity": 1},
      "encoding": {
        "x": {"field": "d", "type": "temporal"},
        "y": {"field": "v", "type": "quantitative"}
      }
    },
    {
      "data": {"name": "arrows"},
      "mark": {"type": "rule", "strokeWidth": 3, "strokeCap": "round"},
      "encoding": {
        "x": {"field": "d", "type": "temporal"},
        "x2": {"field": "d2"},
        "y": {"field": "v", "type": "quantitative"},
        "y2": {"field": "v2"},
        "color": {"field": "k", "type": "nominal", "scale": {"domain": ["rise", "fall", "gold", "ema", "spread"], "range": ["#4caf50", "#f23645", "#f5801f", "#e4520c", "#5681ea"]}, "legend": null}
      }
    },
    {
      "data": {"name": "notes"},
      "transform": [{"filter": "datum.k != 'fall'"}],
      "mark": {"type": "text", "font": "Open Sans", "fontSize": 22.5, "fontWeight": "bold", "align": "left", "baseline": "alphabetic"},
      "encoding": {
        "x": {"field": "d", "type": "temporal"},
        "y": {"field": "v", "type": "quantitative"},
        "text": {"field": "t"},
        "color": {"field": "k", "type": "nominal", "scale": {"domain": ["rise", "fall", "gold", "ema", "spread"], "range": ["#4caf50", "#f23645", "#f5801f", "#e4520c", "#5681ea"]}, "legend": null}
      }
    },
    {
      "data": {"name": "notes"},
      "transform": [{"filter": "datum.k == 'fall'"}],
      "mark": {"type": "text", "font": "Open Sans", "fontSize": 23.5, "fontWeight": 600, "align": "left", "baseline": "alphabetic"},
      "encoding": {
        "x": {"field": "d", "type": "temporal"},
        "y": {"field": "v", "type": "quantitative"},
        "text": {"field": "t"},
        "color": {"field": "k", "type": "nominal", "scale": {"domain": ["rise", "fall", "gold", "ema", "spread"], "range": ["#4caf50", "#f23645", "#f5801f", "#e4520c", "#5681ea"]}, "legend": null}
      }
    },
    {
      "data": {"name": "tags"},
      "mark": {"type": "point", "filled": true, "size": 3600, "opacity": 1, "strokeWidth": 0},
      "encoding": {
        "x": {"datum": {"year": 2026, "month": 9, "date": 4, "hours": 14, "minutes": 24, "utc": true}, "type": "temporal"},
        "y": {"field": "v", "type": "quantitative"},
        "shape": {"field": "k", "type": "nominal", "scale": {"domain": ["gold", "ema", "spread"], "range": ["M0,-0.32H2.1V0.32H0Z", "M0,-0.32H1.6V0.32H0Z", "M0,-0.32H1.87V0.32H0Z"]}, "legend": null},
        "color": {"field": "k", "type": "nominal", "scale": {"domain": ["rise", "fall", "gold", "ema", "spread"], "range": ["#4caf50", "#f23645", "#f5801f", "#e4520c", "#5681ea"]}, "legend": null}
      }
    },
    {
      "data": {"name": "tags"},
      "mark": {"type": "text", "font": "Open Sans", "fontSize": 12, "color": "white", "align": "left", "baseline": "middle", "dx": 10},
      "encoding": {
        "x": {"datum": {"year": 2026, "month": 9, "date": 4, "hours": 14, "minutes": 24, "utc": true}, "type": "temporal"},
        "y": {"field": "v", "type": "quantitative"},
        "text": {"field": "t"}
      }
    }
  ]
}
